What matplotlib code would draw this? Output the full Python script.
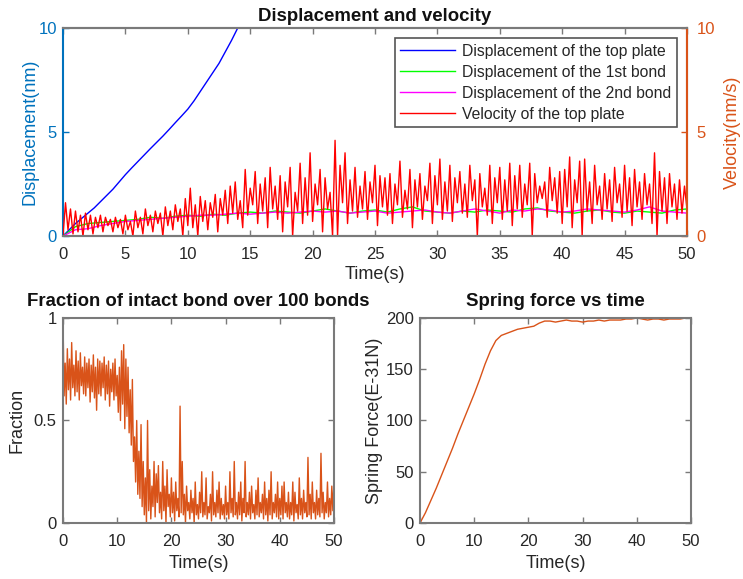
import numpy as np
import matplotlib
matplotlib.use("Agg")
import matplotlib.pyplot as plt

plt.rcParams['font.family'] = ['Liberation Sans', 'DejaVu Sans']
plt.rcParams['font.size'] = 12

# ---------------- data ----------------
# displacement of the top plate (nm), sampled every 0.5 s
t_top = np.arange(0, 15.01, 0.5)
disp_top = [0.0, 0.3, 0.6, 0.85, 1.1, 1.35, 1.65, 1.95, 2.25, 2.6, 2.95,
            3.27, 3.58, 3.89, 4.2, 4.5, 4.8, 5.12, 5.45, 5.77, 6.1,
            6.5, 6.95, 7.4, 7.85, 8.3, 8.85, 9.4, 10.0, 10.6, 11.2]

# displacement of the two bonds (nm), sampled every 1 s
t_bond = np.arange(0, 51, 1)
disp_bond1 = [0, 0.45, 0.6, 0.65, 0.7, 0.75, 0.8, 0.9, 0.85, 0.95, 1.0, 0.95, 1.05,
              1.0, 1.1, 1.15, 1.1, 1.2, 1.15, 1.1, 1.2, 1.3, 1.2, 1.1, 1.2, 1.25,
              1.15, 1.3, 1.4, 1.2, 1.15, 1.1, 1.2, 1.15, 1.25, 1.2, 1.15, 1.3, 1.35,
              1.2, 1.15, 1.1, 1.2, 1.25, 1.15, 1.1, 1.2, 1.15, 1.1, 1.25, 1.3]
disp_bond2 = [0, 0.3, 0.35, 0.5, 0.6, 0.7, 0.75, 0.8, 0.85, 0.9, 0.95, 1.0, 1.0,
              1.05, 1.1, 1.05, 1.1, 1.15, 1.1, 1.15, 1.2, 1.15, 1.2, 1.1, 1.15, 1.2,
              1.1, 1.15, 1.2, 1.25, 1.15, 1.1, 1.2, 1.3, 1.2, 1.1, 1.25, 1.2, 1.3,
              1.25, 1.15, 1.2, 1.3, 1.25, 1.2, 1.15, 1.25, 1.4, 1.2, 1.15, 1.1]

# velocity of the top plate (nm/s), sampled every 0.2 s
t_fine = np.round(np.arange(0, 50.01, 0.2), 2)
velocity = [
    0.0, 1.6, 0.3, 1.3, 0.1, 1.2, 0.2, 1.0, 0.0, 1.1,
    0.3, 1.0, 0.1, 0.9, 0.4, 1.0, 0.2, 0.9, 0.5, 0.8,
    0.2, 0.9, 0.4, 0.8, 0.1, 1.0, 0.3, 0.7, 0.0, 1.2,
    0.4, 0.9, 0.1, 1.3, 0.5, 1.0, 0.2, 1.2, 0.6, 1.1,
    0.0, 1.4, 0.5, 1.2, 0.3, 1.5, 0.7, 1.3, 0.0, 1.8,
    0.5, 2.3, 0.4, 1.5, 0.0, 1.9, 0.7, 1.7, 0.3, 1.6,
    0.9, 2.0, 0.2, 1.8, 1.0, 2.2, 0.6, 2.4, 1.1, 2.6,
    0.8, 1.7, 0.4, 3.2, 1.0, 2.3, 1.5, 3.1, 0.6, 2.5,
    1.2, 2.8, 0.4, 3.3, 1.3, 2.4, 0.8, 2.9, 0.2, 2.6,
    1.4, 3.3, 0.0, 2.1, 1.2, 3.5, 0.6, 2.8, 1.0, 4.0,
    0.7, 2.5, 1.5, 3.2, 0.2, 2.8, 1.3, 2.1, 0.0, 4.6,
    0.0, 3.4, 1.6, 4.0, 0.6, 2.7, 1.2, 3.3, 0.9, 2.4,
    1.3, 3.1, 0.8, 2.6, 1.6, 3.4, 0.5, 2.9, 1.4, 2.8,
    1.0, 3.0, 0.6, 2.5, 1.5, 3.6, 0.9, 2.2, 1.3, 3.2,
    0.4, 2.7, 1.4, 3.0, 0.8, 2.4, 1.7, 3.5, 0.6, 2.9,
    1.5, 3.7, 0.8, 2.6, 1.2, 3.4, 0.7, 2.8, 1.6, 3.1,
    1.1, 2.5, 0.9, 3.4, 1.7, 2.7, 0.0, 3.0, 1.4, 2.3,
    1.0, 3.4, 0.6, 2.8, 1.6, 3.3, 0.8, 2.7, 1.2, 3.5,
    0.5, 2.9, 1.3, 3.4, 0.9, 2.5, 1.5, 3.5, 0.0, 3.0,
    1.6, 2.4, 1.8, 2.6, 0.9, 3.3, 1.7, 2.8, 1.1, 3.1,
    0.6, 3.2, 1.4, 3.8, 0.4, 2.7, 1.6, 3.6, 0.0, 3.7,
    1.2, 2.6, 0.6, 3.4, 1.5, 2.4, 0.8, 3.0, 1.3, 2.7,
    0.7, 3.3, 1.6, 2.5, 0.9, 3.4, 1.2, 2.8, 0.5, 3.2,
    1.4, 2.6, 0.8, 3.0, 1.5, 2.5, 0.6, 4.0, 0.0, 3.1,
    1.2, 2.8, 0.6, 3.0, 1.4, 2.5, 0.8, 2.7, 1.1, 2.4,
    1.3]

# fraction of intact bonds, sampled every 0.2 s
fraction = [
    1.00, 0.62, 0.78, 0.58, 0.85, 0.65, 0.80, 0.60, 0.88, 0.66,
    0.77, 0.62, 0.84, 0.64, 0.79, 0.60, 0.83, 0.67, 0.76, 0.63,
    0.81, 0.62, 0.78, 0.66, 0.80, 0.59, 0.77, 0.64, 0.82, 0.61,
    0.76, 0.55, 0.80, 0.63, 0.79, 0.62, 0.78, 0.66, 0.81, 0.60,
    0.77, 0.63, 0.79, 0.57, 0.75, 0.64, 0.78, 0.60, 0.80, 0.62,
    0.72, 0.54, 0.76, 0.50, 0.84, 0.58, 0.87, 0.46, 0.80, 0.52,
    0.76, 0.44, 0.65, 0.38, 0.70, 0.30, 0.42, 0.20, 0.50, 0.14,
    0.35, 0.12, 0.48, 0.08, 0.30, 0.04, 0.22, 0.00, 0.50, 0.06,
    0.26, 0.02, 0.18, 0.08, 0.30, 0.03, 0.24, 0.10, 0.28, 0.05,
    0.15, 0.02, 0.30, 0.06, 0.18, 0.00, 0.26, 0.08, 0.14, 0.03,
    0.22, 0.05, 0.15, 0.01, 0.20, 0.06, 0.12, 0.03, 0.57, 0.05,
    0.30, 0.04, 0.14, 0.00, 0.18, 0.06, 0.10, 0.02, 0.16, 0.05,
    0.12, 0.00, 0.20, 0.04, 0.09, 0.02, 0.15, 0.05, 0.25, 0.03,
    0.10, 0.04, 0.22, 0.02, 0.08, 0.05, 0.14, 0.01, 0.25, 0.04,
    0.10, 0.03, 0.16, 0.05, 0.20, 0.02, 0.12, 0.04, 0.09, 0.02,
    0.18, 0.04, 0.10, 0.02, 0.25, 0.05, 0.12, 0.03, 0.30, 0.04,
    0.10, 0.02, 0.15, 0.04, 0.20, 0.01, 0.12, 0.05, 0.30, 0.03,
    0.10, 0.04, 0.15, 0.02, 0.18, 0.05, 0.09, 0.02, 0.16, 0.04,
    0.22, 0.03, 0.10, 0.05, 0.14, 0.02, 0.20, 0.04, 0.12, 0.01,
    0.16, 0.04, 0.25, 0.02, 0.10, 0.05, 0.14, 0.03, 0.20, 0.02,
    0.12, 0.04, 0.18, 0.02, 0.20, 0.05, 0.10, 0.03, 0.15, 0.02,
    0.10, 0.04, 0.20, 0.01, 0.15, 0.05, 0.09, 0.02, 0.22, 0.04,
    0.12, 0.02, 0.16, 0.05, 0.10, 0.03, 0.32, 0.04, 0.14, 0.02,
    0.20, 0.05, 0.10, 0.02, 0.16, 0.04, 0.12, 0.03, 0.34, 0.05,
    0.15, 0.02, 0.10, 0.05, 0.20, 0.03, 0.12, 0.04, 0.18, 0.06,
    0.20]

# spring force (E-31 N), sampled every 1 s
spring_force = [0, 10, 22, 34, 47, 60, 73, 87, 100, 113, 126, 140, 155, 168, 178,
                183, 185, 187, 189, 190, 191, 192, 195, 197, 197, 196, 197, 198,
                197, 197, 196, 197, 197, 198, 197, 198, 198, 198, 199, 199, 200,
                199, 198, 199, 199, 198, 199, 199, 199, 200, 200]

# ---------------- styling ----------------
BLUE_AX = '#0072BD'
ORANGE = '#D95319'
FRAME = '#7a7a7a'
TXT = '#262626'
TICK_FS = 12
LABEL_FS = 13
TITLE_FS = 13.4
XPAD = 8
YPAD = 4.5


def style_box(ax, tick_color=TXT):
    for s in ax.spines.values():
        s.set_color(FRAME)
        s.set_linewidth(1.5)
    ax.tick_params(direction='in', length=4, width=1, colors=FRAME,
                   labelcolor=tick_color, labelsize=TICK_FS, top=True, right=True)
    ax.tick_params(axis='x', pad=XPAD)
    ax.tick_params(axis='y', pad=YPAD)


fig = plt.figure(figsize=(7.43, 5.79), dpi=100)

# top panel: displacement and velocity
ax = fig.add_axes([0.0848, 0.5924, 0.8398, 0.3592])
ax2 = ax.twinx()
h1, = ax.plot(t_top, disp_top, color='#0000ff', lw=1.0,
              label='Displacement of the top plate')
h2, = ax.plot(t_bond, disp_bond1, color='#00ff00', lw=1.0,
              label='Displacement of the 1st bond')
h3, = ax.plot(t_bond, disp_bond2, color='#ff00ff', lw=1.0,
              label='Displacement of the 2nd bond')
h4, = ax2.plot(t_fine, velocity, color='#ff0000', lw=1.0,
               label='Velocity of the top plate')
ax.set_xlim(0, 50)
ax.set_ylim(0, 10)
ax2.set_ylim(0, 10)
ax.set_xticks(np.arange(0, 51, 5))
ax.set_yticks([0, 5, 10])
ax2.set_yticks([0, 5, 10])
for a in (ax, ax2):
    for s in a.spines.values():
        s.set_color(FRAME)
        s.set_linewidth(1.5)
ax.spines['left'].set_color(BLUE_AX)
ax2.spines['left'].set_visible(False)
ax2.spines['right'].set_color(ORANGE)
ax.tick_params(axis='x', direction='in', length=4, width=1, colors=FRAME,
               labelcolor=TXT, labelsize=TICK_FS, top=True, pad=XPAD)
ax.tick_params(axis='y', direction='in', length=4, width=1, colors=BLUE_AX,
               labelcolor=BLUE_AX, labelsize=TICK_FS, right=False, pad=YPAD)
ax2.tick_params(axis='y', direction='in', length=4, width=1, colors=ORANGE,
                labelcolor=ORANGE, labelsize=TICK_FS, pad=7)
ax.set_ylabel('Displacement(nm)', color=BLUE_AX, fontsize=LABEL_FS, labelpad=0)
ax2.set_ylabel('Velocity(nm/s)', color=ORANGE, fontsize=LABEL_FS, rotation=90,
               labelpad=6.5)
ax.set_xlabel('Time(s)', color=TXT, fontsize=LABEL_FS, labelpad=3)
ax.set_title('Displacement and velocity', fontweight='bold', fontsize=TITLE_FS,
             color='#111111', pad=5)
leg = ax2.legend(handles=[h1, h2, h3, h4], loc='upper right', fontsize=11.3,
                 frameon=True, fancybox=False, framealpha=1,
                 edgecolor='#555555', handlelength=3.5, handletextpad=0.45,
                 labelspacing=0.38, borderaxespad=0.65, borderpad=0.35)
leg.get_frame().set_linewidth(1.2)
for txt in leg.get_texts():
    txt.set_color(TXT)

# bottom left: fraction of intact bonds
axf = fig.add_axes([0.0848, 0.0967, 0.3647, 0.3541])
axf.plot(t_fine, fraction, color=ORANGE, lw=1.0)
axf.set_xlim(0, 50)
axf.set_ylim(0, 1)
axf.set_xticks(np.arange(0, 51, 10))
axf.set_yticks([0, 0.5, 1])
axf.set_yticklabels(['0', '0.5', '1'])
style_box(axf)
axf.set_xlabel('Time(s)', color=TXT, fontsize=LABEL_FS, labelpad=4)
axf.set_ylabel('Fraction', color=TXT, fontsize=LABEL_FS, labelpad=6)
axf.set_title('Fraction of intact bond over 100 bonds', fontweight='bold',
              fontsize=TITLE_FS, color='#111111', pad=8.5)

# bottom right: spring force
axs = fig.add_axes([0.5653, 0.0967, 0.3647, 0.3541])
axs.plot(t_bond, spring_force, color=ORANGE, lw=1.0)
axs.set_xlim(0, 50)
axs.set_ylim(0, 200)
axs.set_xticks(np.arange(0, 51, 10))
axs.set_yticks(np.arange(0, 201, 50))
style_box(axs)
axs.set_xlabel('Time(s)', color=TXT, fontsize=LABEL_FS, labelpad=4)
axs.set_ylabel('Spring Force(E-31N)', color=TXT, fontsize=LABEL_FS, labelpad=2)
axs.set_title('Spring force vs time', fontweight='bold', fontsize=TITLE_FS,
              color='#111111', pad=8.5)

fig.savefig('out.png', dpi=100, facecolor='white')
